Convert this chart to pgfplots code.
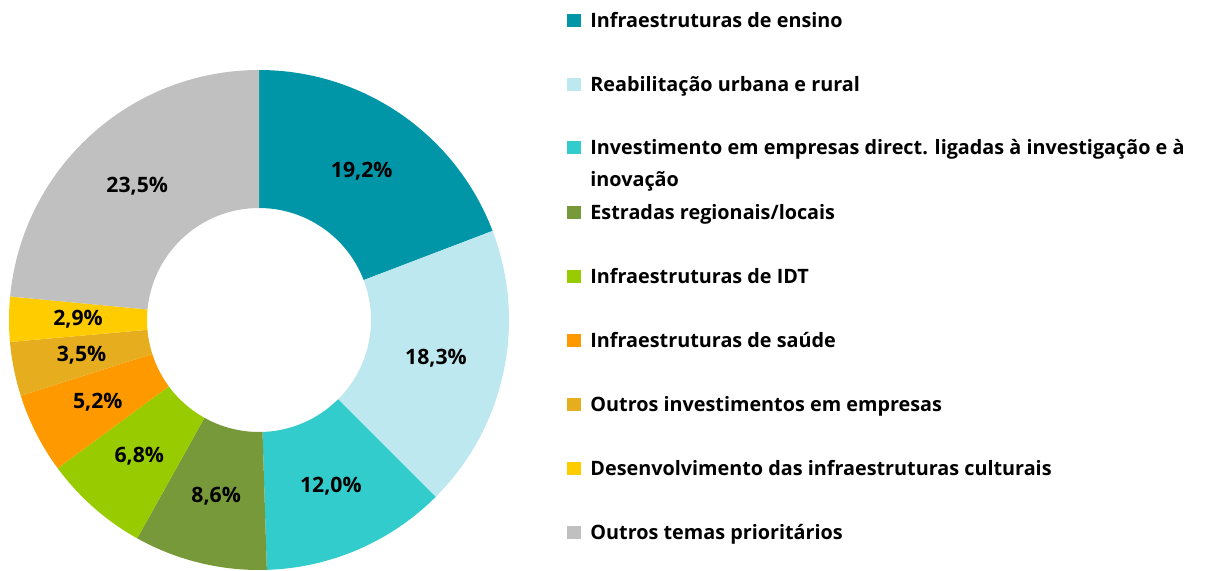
\documentclass[border=0pt]{standalone}
\usepackage{fontspec}
\setmainfont{Open Sans}
\usepackage{pgfplots}
\usepackage{pgfplotstable}
\pgfplotsset{compat=1.18}
\usetikzlibrary{calc}

\definecolor{cEnsino}{RGB}{0,150,167}
\definecolor{cReab}{RGB}{190,232,239}
\definecolor{cInov}{RGB}{51,204,204}
\definecolor{cEstr}{RGB}{119,153,58}
\definecolor{cIDT}{RGB}{153,204,0}
\definecolor{cSaude}{RGB}{255,153,0}
\definecolor{cEmpr}{RGB}{230,173,31}
\definecolor{cCult}{RGB}{255,204,0}
\definecolor{cOutros}{RGB}{192,192,192}

% share of each theme, clockwise from 12 o'clock
\pgfplotstableread{
val  col
19.2 cEnsino
18.3 cReab
12.0 cInov
8.6  cEstr
6.8  cIDT
5.2  cSaude
3.5  cEmpr
2.9  cCult
23.5 cOutros
}\donut

\begin{document}
\begin{tikzpicture}
\useasboundingbox (0,0) rectangle (610pt,285pt);
\begin{axis}[
  at={(0,0)}, anchor=south west,
  width=610pt, height=285pt, scale only axis,
  xmin=0, xmax=1220, ymin=0, ymax=570, y dir=reverse,
  hide axis
]
  \coordinate (c) at (axis cs:259,320);
\end{axis}

\xdef\start{90}
\foreach \i in {0,...,8}{
  \pgfplotstablegetelem{\i}{val}\of\donut \let\v\pgfplotsretval
  \pgfplotstablegetelem{\i}{col}\of\donut \let\clr\pgfplotsretval
  \pgfmathsetmacro\e{\start-3.6*\v}
  \pgfmathsetmacro\m{(\start+\e)/2}
  \fill[\clr] ($(c)+(\start:125pt)$) arc[start angle=\start, end angle=\e, radius=125pt]
    -- ($(c)+(\e:56pt)$) arc[start angle=\e, end angle=\start, radius=56pt] -- cycle;
  \node[font=\bfseries\fontsize{10.6}{12}\selectfont] at ($(c)+(\m:90.5pt)$)
    {\pgfmathprintnumber[assume math mode=true,fixed,fixed zerofill,precision=1,use comma]{\v}\%};
  \xdef\start{\e}
}

% legend, in pixel units of the reference
\begin{scope}[shift={(0,285pt)}, x=0.5pt, y=-0.5pt,
  every node/.style={anchor=base west, inner sep=0pt, font=\bfseries\fontsize{9.9}{11}\selectfont}]
  \fill[cEnsino] (567,14) rectangle (581,27);
  \node at (590,27) {Infraestruturas de ensino};
  \fill[cReab] (567,78) rectangle (581,91);
  \node at (590,91) {Reabilitação urbana e rural};
  \fill[cInov] (567,141) rectangle (581,154);
  \node at (590,154) {Investimento em empresas direct. ligadas à investigação e à};
  \node at (590,186) {inovação};
  \fill[cEstr] (567,206) rectangle (581,219);
  \node at (590,219) {Estradas regionais/locais};
  \fill[cIDT] (567,270) rectangle (581,283);
  \node at (590,283) {Infraestruturas de IDT};
  \fill[cSaude] (567,334) rectangle (581,347);
  \node at (590,347) {Infraestruturas de saúde};
  \fill[cEmpr] (567,398) rectangle (581,411);
  \node at (590,411) {Outros investimentos em empresas};
  \fill[cCult] (567,462) rectangle (581,475);
  \node at (590,475) {Desenvolvimento das infraestruturas culturais};
  \fill[cOutros] (567,526) rectangle (581,539);
  \node at (590,539) {Outros temas prioritários};
\end{scope}
\end{tikzpicture}
\end{document}
